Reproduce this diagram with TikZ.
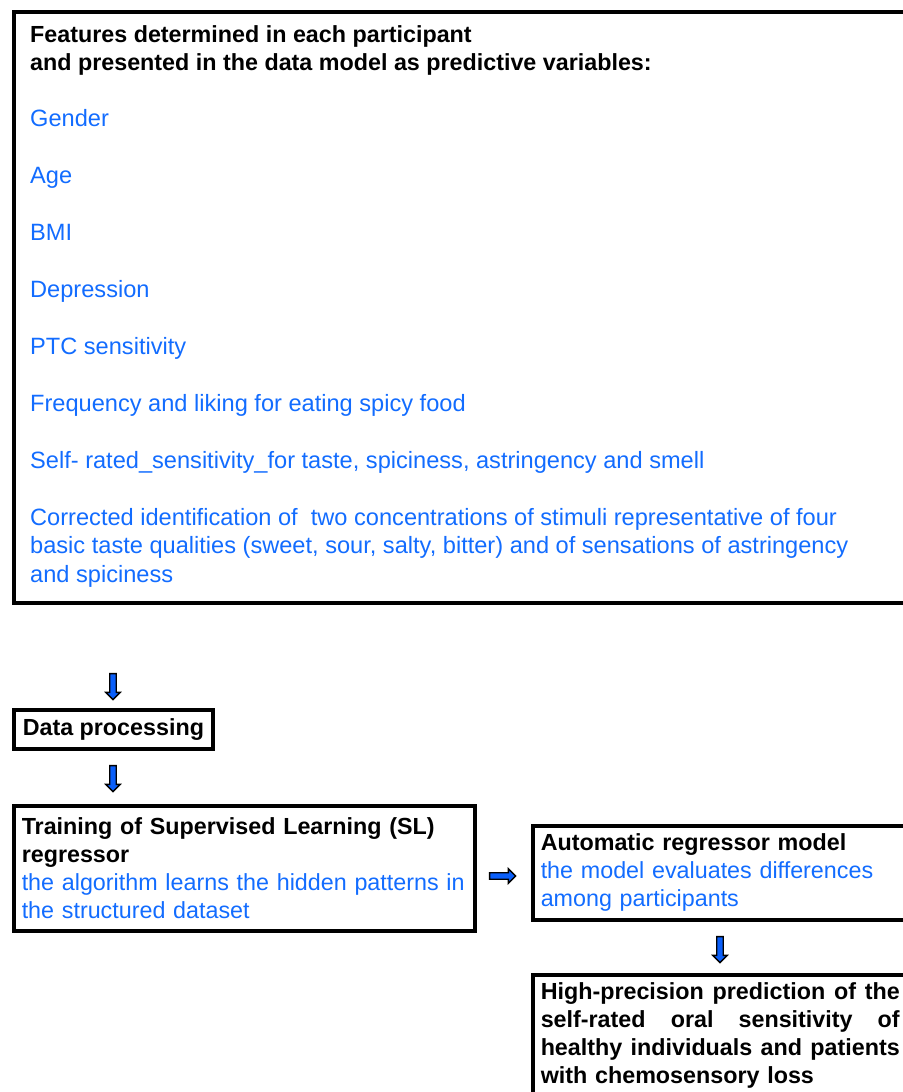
\documentclass[tikz,border=0pt]{standalone}
\usepackage{fontspec}
\setmainfont{Liberation Sans}
\usetikzlibrary{shapes.arrows}
\definecolor{featblue}{RGB}{18,108,255}
\definecolor{arrowblue}{RGB}{10,95,250}
\newcommand{\fitline}[1]{\makebox[\hsize][s]{\spaceskip=0.278em plus 1fil\relax #1}}
\begin{document}
\begin{tikzpicture}[x=1pt,y=-1pt,
  box/.style={draw,line width=3.5pt,anchor=north west,inner xsep=8pt,inner ysep=4pt,align=left},
  hd/.style={font=\fontsize{23.3}{28}\selectfont\bfseries},
  item/.style={anchor=base west,inner sep=0pt,text=featblue,align=left,font=\fontsize{23.6}{28.5}\selectfont},
  barrow/.style={single arrow,draw=black,fill=arrowblue,line width=1.3pt,inner sep=2.6pt,
    minimum height=26pt,single arrow head extend=4pt,single arrow head indent=0pt}]

    \useasboundingbox (0,0) rectangle (902,1092);

    %feature box
    \node (feat) [box,minimum width=900,minimum height=591] at (12,10) {};
    \node (head1) [anchor=base west,inner sep=0pt,hd] at (30,42) {Features determined in each participant};
    \node (head2) [anchor=base west,inner sep=0pt,hd] at (30,70) {and presented in the data model as predictive variables:};

    %predictive variables
    \node (v1) [item] at (30,126) {Gender};
    \node (v2) [item] at (30,183) {Age};
    \node (v3) [item] at (30,240) {BMI};
    \node (v4) [item] at (30,297) {Depression};
    \node (v5) [item] at (30,354) {PTC sensitivity};
    \node (v6) [item] at (30,411) {Frequency and liking for eating spicy food};
    \node (v7) [item] at (30,468) {Self- rated\_sensitivity\_for taste, spiciness, astringency and smell};
    \node (v8) [item] at (30,582) {Corrected identification of\ \ two concentrations of stimuli representative of four\\
      basic taste qualities (sweet, sour, salty, bitter) and of sensations of astringency\\
      and spiciness};

    %processing chain
    \node (a1) [barrow,shape border rotate=270] at (113,685) {};
    \node (proc) [box,hd,inner xsep=9pt,minimum height=39] at (12,708) {Data processing};
    \node (a2) [barrow,shape border rotate=270] at (113,777) {};
    \node (train) [box,hd,text width=445,minimum height=125] at (12,804)
      {Training of Supervised Learning (SL)\\ regressor\\
       \textcolor{featblue}{\mdseries the algorithm learns the hidden patterns in}\\
       \textcolor{featblue}{\mdseries the structured dataset}};
    \node (a3) [barrow] at (501,876) {};
    \node (auto) [box,hd,text width=365,minimum height=94] at (531,824)
      {Automatic regressor model\\
       \textcolor{featblue}{\mdseries the model evaluates differences}\\
       \textcolor{featblue}{\mdseries among participants}};
    \node (a4) [barrow,shape border rotate=270] at (720,948) {};
    \node (pred) [box,hd,text width=359,inner ysep=8pt] at (531,973)
      {\fitline{High-precision prediction of the}\\
       \fitline{self-rated oral sensitivity of}\\
       \fitline{healthy individuals and patients}\\
       with chemosensory loss};
  \end{tikzpicture}
\end{document}
